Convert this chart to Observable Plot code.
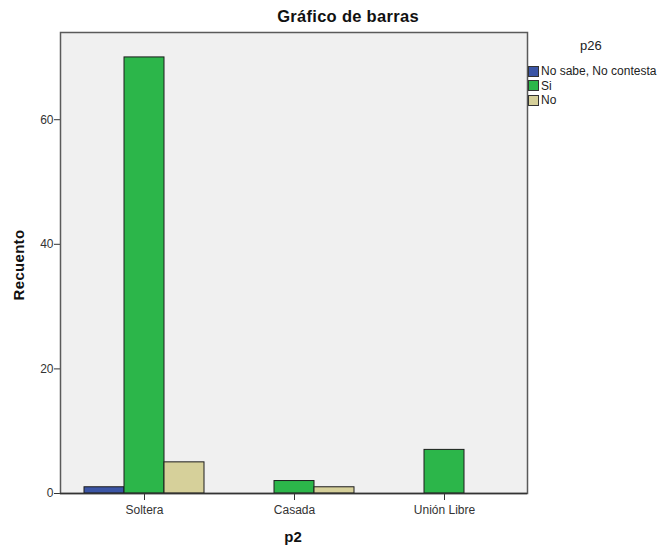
<!DOCTYPE html>
<html>
<head>
<meta charset="utf-8">
<script src="https://cdn.jsdelivr.net/npm/d3@7"></script>
<script src="https://cdn.jsdelivr.net/npm/@observablehq/plot@0.6"></script>
<style>
  html, body { margin: 0; padding: 0; background: #fff; }
  #wrap { position: relative; width: 661px; height: 548px; font-family: "Liberation Sans", Arial, sans-serif; }
  #chart { position: absolute; left: 0; top: 0; }
  .title { position: absolute; top: 16px; left: 348px; transform: translate(-50%, -50%); font-size: 16.5px; letter-spacing: 0.3px; font-weight: bold; color: #111; white-space: nowrap; }
  .ylab { position: absolute; left: 18px; top: 265px; transform: translate(-50%, -50%) rotate(-90deg); font-size: 15px; font-weight: bold; color: #111; white-space: nowrap; letter-spacing: 0.3px; }
  .xlab { position: absolute; left: 293px; top: 536px; transform: translate(-50%, -50%); font-size: 15px; font-weight: bold; color: #111; }
  .legend { position: absolute; left: 528px; top: 38px; font-size: 12px; color: #222; }
  .legend .lt { margin-left: 52px; font-size: 13px; margin-bottom: 11px; }
  .legend .row { display: flex; align-items: center; height: 14.5px; white-space: nowrap; }
  .legend .sw { width: 11px; height: 11px; border: 1px solid #333; box-sizing: border-box; margin-right: 2px; flex: none; }
</style>
</head>
<body>
<div id="wrap">
  <div id="chart"></div>
  <div class="title">Gráfico de barras</div>
  <div class="ylab">Recuento</div>
  <div class="xlab">p2</div>
  <div class="legend" id="legend"></div>
</div>
<script>
const categories = ["Soltera", "Casada", "Unión Libre"];
const groups = ["No sabe, No contesta", "Si", "No"];
const noSabe = [1, 0, 0];
const si = [70, 2, 7];
const no = [5, 1, 0];
const yTicks = [0, 20, 40, 60];
const colors = ["#3b55a6", "#2cb64a", "#d6d09a"];
const legendTitle = "p26";

const series = [noSabe, si, no];
const rows = [];
categories.forEach((c, i) => {
  groups.forEach((g, j) => {
    rows.push({ category: c, group: g, value: series[j][i] });
  });
});

const barW = 40;
const marks = [
  Plot.frame({ fill: "#f0f0f0", stroke: "#5a5a5a", strokeWidth: 1.5 })
];
groups.forEach((g, j) => {
  marks.push(Plot.barY(rows.filter(d => d.group === g && d.value > 0), {
    x: "category",
    y: "value",
    fill: colors[j],
    stroke: "#1c1c1c",
    strokeWidth: 1,
    insetLeft: j * barW,
    insetRight: (groups.length - 1 - j) * barW
  }));
});
marks.push(Plot.ruleY([0], { stroke: "#333", strokeWidth: 1.5 }));

const chart = Plot.plot({
  width: 661,
  height: 548,
  marginLeft: 60,
  marginRight: 134,
  marginTop: 32,
  marginBottom: 55,
  style: { background: "transparent", fontFamily: "Liberation Sans, Arial, sans-serif", fontSize: "12px", color: "#333" },
  x: { domain: categories, paddingInner: 0.2, paddingOuter: 0.155, label: null, tickSize: 7, tickPadding: 5 },
  y: { domain: [0, 74], ticks: yTicks, tickFormat: d => d, label: null, tickSize: 6, tickPadding: 1 },
  marks
});
document.getElementById("chart").appendChild(chart);

const lg = document.getElementById("legend");
const t = document.createElement("div");
t.className = "lt";
t.textContent = legendTitle;
lg.appendChild(t);
groups.forEach((g, j) => {
  const r = document.createElement("div");
  r.className = "row";
  const s = document.createElement("span");
  s.className = "sw";
  s.style.background = colors[j];
  const l = document.createElement("span");
  l.textContent = g;
  r.appendChild(s);
  r.appendChild(l);
  lg.appendChild(r);
});
</script>
</body>
</html>
